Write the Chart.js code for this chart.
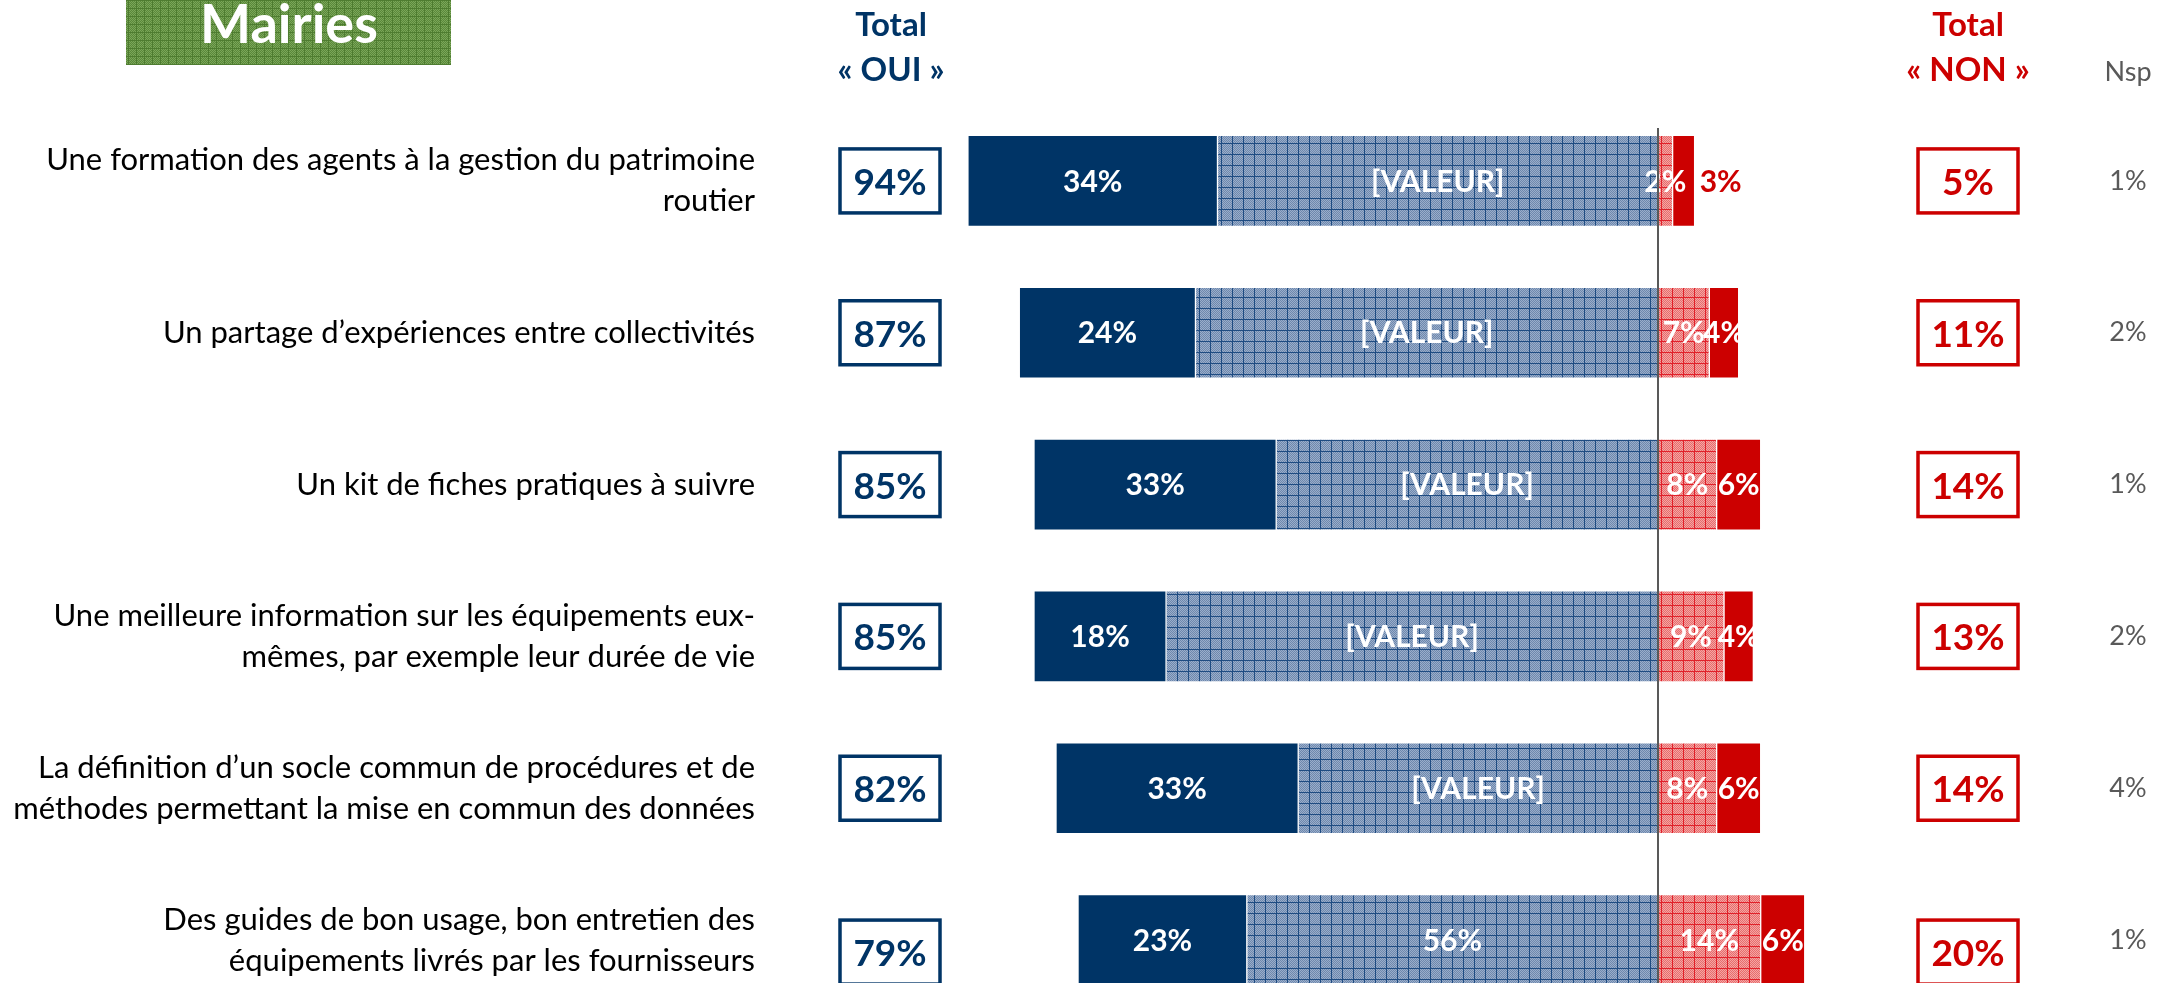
<!DOCTYPE html>
<html>
<head>
<meta charset="utf-8">
<script src="https://cdn.jsdelivr.net/npm/chart.js@4/dist/chart.umd.min.js"></script>
<style>
  html, body { margin: 0; padding: 0; background: #fff; overflow: hidden; }
  #wrap { position: relative; width: 2167px; height: 983px; overflow: hidden; }
  #c { position: absolute; left: 0; top: 0; }
</style>
</head>
<body>
<div id="wrap"><canvas id="c" width="2167" height="1016"></canvas></div>
<script>
// ---------- DATA ----------
const categories = [
  ['Une formation des agents à la gestion du patrimoine', 'routier'],
  ['Un partage d’expériences entre collectivités'],
  ['Un kit de fiches pratiques à suivre'],
  ['Une meilleure information sur les équipements eux-', 'mêmes, par exemple leur durée de vie'],
  ['La définition d’un socle commun de procédures et de', 'méthodes permettant la mise en commun des données'],
  ['Des guides de bon usage, bon entretien des', 'équipements livrés par les fournisseurs']
];
const ouiToutAFait  = [34, 24, 33, 18, 33, 23];
const ouiPlutot     = [60, 63, 52, 67, 49, 56];
const nonPlutotPas  = [2, 7, 8, 9, 8, 14];
const nonPasDuTout  = [3, 4, 6, 4, 6, 6];
const totalOui      = [94, 87, 85, 85, 82, 79];
const totalNon      = [5, 11, 14, 13, 14, 20];
const nsp           = [1, 2, 1, 2, 4, 1];
const ouiPlutotLabels = ['[VALEUR]', '[VALEUR]', '[VALEUR]', '[VALEUR]', '[VALEUR]', '56%'];
const title = 'Mairies';

// ---------- STYLE ----------
const NAVY = '#003466';
const RED = '#CC0000';
const GREY = '#595959';
const FONT = 'Lato, "Open Sans", "Liberation Sans", sans-serif';

function makePattern(c1, c2, line, size) {
  const p = document.createElement('canvas');
  p.width = size; p.height = size;
  const g = p.getContext('2d');
  for (let y = 0; y < size; y++) {
    for (let x = 0; x < size; x++) {
      g.fillStyle = ((x + y) % 2 === 0) ? c1 : c2;
      g.fillRect(x, y, 1, 1);
    }
  }
  g.fillStyle = line;
  g.fillRect(0, 0, size, 1);
  g.fillRect(0, 0, 1, size);
  return g.createPattern(p, 'repeat');
}
const ctx0 = document.getElementById('c').getContext('2d');
const bluePattern = makePattern('#9AAECB', '#6E88AD', '#1F4C82', 11);
const redPattern  = makePattern('#F4A4A4', '#E76C6C', '#E0202A', 11);
const greenPattern = makePattern('#7AA659', '#5A883A', '#4E7C30', 8);

const dsLabelTexts = [
  ouiPlutotLabels,
  ouiToutAFait.map(v => v + '%'),
  nonPlutotPas.map(v => v + '%'),
  nonPasDuTout.map(v => v + '%')
];

const overlay = {
  id: 'overlay',
  afterDatasetsDraw(chart) {
    const ctx = chart.ctx;
    const xs = chart.scales.x;
    ctx.save();
    ctx.font = 'bold 30px ' + FONT;
    ctx.textBaseline = 'middle';
    chart.data.datasets.forEach((ds, di) => {
      const meta = chart.getDatasetMeta(di);
      meta.data.forEach((el, i) => {
        const p = el.getProps(['x', 'y', 'base'], true);
        const txt = dsLabelTexts[di][i];
        if (di === 3 && ds.data[i] < 4) {
          ctx.fillStyle = RED;
          ctx.textAlign = 'left';
          ctx.fillText(txt, Math.max(p.x, p.base) + 5, p.y + 1);
        } else {
          ctx.fillStyle = '#FFFFFF';
          ctx.textAlign = 'center';
          ctx.fillText(txt, (p.x + p.base) / 2, p.y + 1);
        }
      });
    });
    // centre line
    const x0 = Math.round(xs.getPixelForValue(0));
    ctx.strokeStyle = GREY;
    ctx.lineWidth = 2;
    ctx.beginPath();
    ctx.moveTo(x0, 128);
    ctx.lineTo(x0, chart.height);
    ctx.stroke();
    ctx.restore();
  },
  afterDraw(chart) {
    const ctx = chart.ctx;
    const ys = chart.scales.y;
    ctx.save();
    // Title box
    ctx.fillStyle = greenPattern;
    ctx.fillRect(126, 0, 325, 65);
    ctx.fillStyle = '#FFFFFF';
    ctx.font = 'bold 54px ' + FONT;
    ctx.textAlign = 'center';
    ctx.textBaseline = 'middle';
    ctx.fillText(title, 289, 26);

    // Headers
    ctx.font = 'bold 33px ' + FONT;
    ctx.fillStyle = NAVY;
    ctx.fillText('Total', 891, 25);
    ctx.fillText('« OUI »', 891, 70);
    ctx.fillStyle = RED;
    ctx.fillText('Total', 1968, 25);
    ctx.fillText('« NON »', 1968, 70);
    ctx.fillStyle = GREY;
    ctx.font = '27px ' + FONT;
    ctx.fillText('Nsp', 2128, 72);

    // Total boxes and Nsp
    for (let i = 0; i < categories.length; i++) {
      const cy = ys.getPixelForValue(i);
      const by = cy + (i === categories.length - 1 ? 12 : 0);
      [[890, totalOui[i], NAVY], [1968, totalNon[i], RED]].forEach(([cx, v, col]) => {
        ctx.strokeStyle = col;
        ctx.lineWidth = 3.5;
        ctx.fillStyle = '#FFFFFF';
        ctx.fillRect(cx - 50, by - 32, 100, 64);
        ctx.strokeRect(cx - 50, by - 32, 100, 64);
        ctx.fillStyle = col;
        ctx.font = 'bold 37px ' + FONT;
        ctx.textAlign = 'center';
        ctx.fillText(v + '%', cx, by + 2);
      });
      ctx.fillStyle = GREY;
      ctx.font = '27px ' + FONT;
      ctx.fillText(nsp[i] + '%', 2128, cy);
    }
    ctx.restore();
  }
};

new Chart(ctx0, {
  type: 'bar',
  data: {
    labels: categories,
    datasets: [
      { label: 'Oui, plutôt', data: ouiPlutot.map(v => -v), backgroundColor: bluePattern },
      { label: 'Oui, tout à fait', data: ouiToutAFait.map(v => -v), backgroundColor: NAVY },
      { label: 'Non, plutôt pas', data: nonPlutotPas, backgroundColor: redPattern },
      { label: 'Non, pas du tout', data: nonPasDuTout, backgroundColor: RED }
    ]
  },
  options: {
    indexAxis: 'y',
    responsive: false,
    animation: false,
    devicePixelRatio: 1,
    layout: { padding: { top: 105, bottom: 0, left: 0, right: 0 } },
    datasets: {
      bar: { barThickness: 91, borderColor: '#FFFFFF', borderWidth: 1, borderSkipped: false }
    },
    plugins: { legend: { display: false }, tooltip: { enabled: false }, title: { display: false } },
    scales: {
      x: { stacked: true, display: false, min: -119.6, max: 69.35 },
      y: {
        stacked: true,
        grid: { display: false },
        border: { display: false },
        ticks: { color: '#000000', padding: 17, font: { family: FONT, size: 31, lineHeight: 1.32 } },
        afterFit(s) { s.width = 780; s.paddingTop = 0; s.paddingBottom = 0; }
      }
    }
  },
  plugins: [overlay]
});
</script>
</body>
</html>
